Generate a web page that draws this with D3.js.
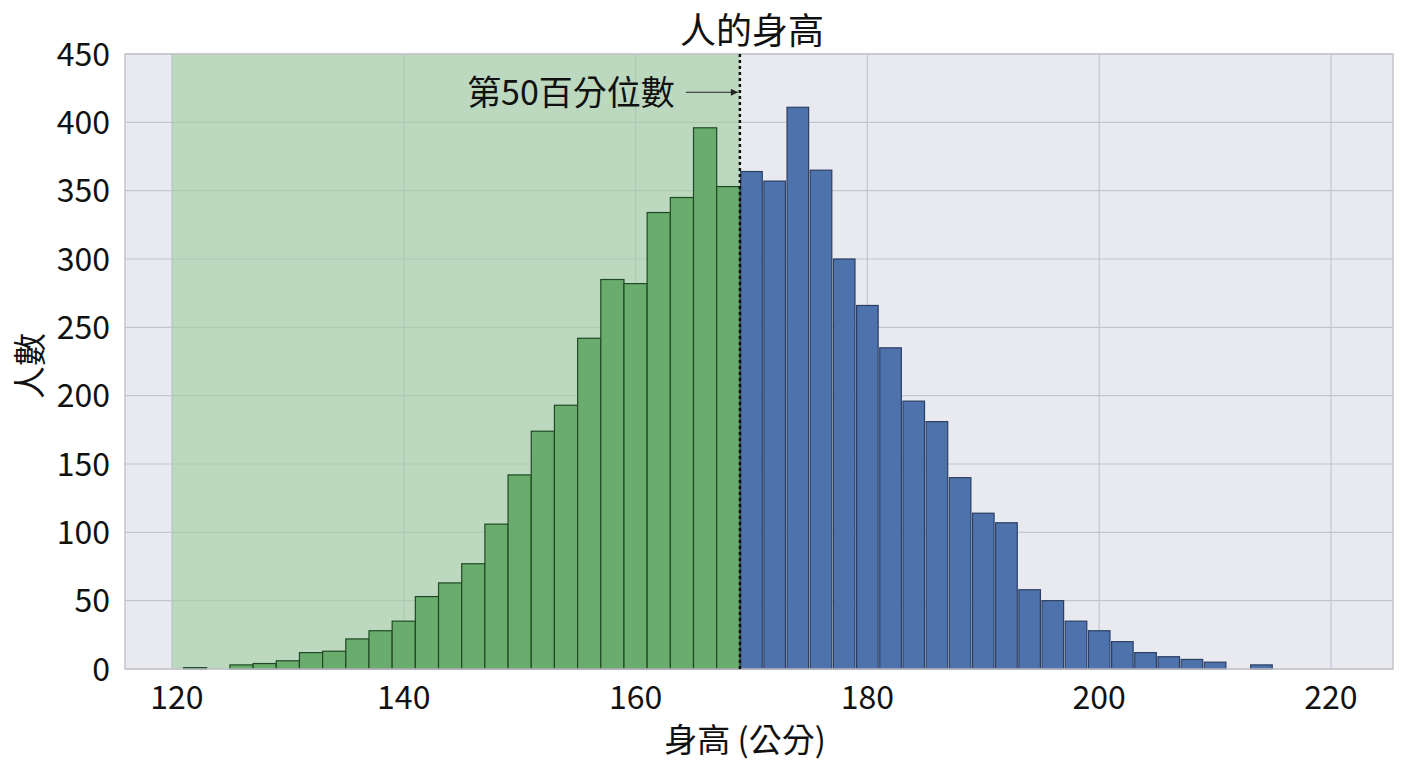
<!DOCTYPE html>
<html>
<head>
<meta charset="utf-8">
<script src="https://cdn.jsdelivr.net/npm/d3@7"></script>
<style>
  body { margin: 0; background: #ffffff; }
  svg { display: block; }
  text { font-family: "Noto Sans CJK TC", "Noto Sans", sans-serif; fill: #111; }
</style>
</head>
<body>
<svg id="svg_canvas" width="1408" height="768"></svg>
<script>
// bin left edges (2 cm wide bins)
var binStarts = [121, 123, 125, 127, 129, 131, 133, 135, 137, 139,
                 141, 143, 145, 147, 149, 151, 153, 155, 157, 159,
                 161, 163, 165, 167, 169, 171, 173, 175, 177, 179,
                 181, 183, 185, 187, 189, 191, 193, 195, 197, 199,
                 201, 203, 205, 207, 209, 211, 213];
var counts = [1, 0, 3, 4, 6, 12, 13, 22, 28, 35,
              53, 63, 77, 106, 142, 174, 193, 242, 285, 282,
              334, 345, 396, 353, 364, 357, 411, 365, 300, 266,
              235, 196, 181, 140, 114, 107, 58, 50, 35, 28,
              20, 12, 9, 7, 5, 0, 3];
var binWidth = 2;
var median = 169;
var spanStart = 120;
var xTicks = [120, 140, 160, 180, 200, 220];
var yTicks = [0, 50, 100, 150, 200, 250, 300, 350, 400, 450];
var titleText = "人的身高";
var xLabel = "身高 (公分)";
var yLabel = "人數";
var annotText = "第50百分位數";

var margin = {top: 54, right: 15, bottom: 99, left: 125};
var width = 1408 - margin.left - margin.right;
var height = 768 - margin.top - margin.bottom;

var svg = d3.select("#svg_canvas");
var g = svg.append("g").attr("transform", "translate(" + margin.left + "," + margin.top + ")");

var x = d3.scaleLinear().domain([115.95, 225.35]).range([0, width]);
var y = d3.scaleLinear().domain([0, 450]).range([height, 0]);

// background
g.append("rect")
	.attr("width", width)
	.attr("height", height)
	.attr("fill", "#e9e9f0");

// grid
g.selectAll(".vgrid").data(xTicks).enter().append("line")
	.attr("x1", function(d){ return x(d); })
	.attr("x2", function(d){ return x(d); })
	.attr("y1", 0).attr("y2", height)
	.attr("stroke", "#c4c6cf").attr("stroke-width", 1.2);
g.selectAll(".hgrid").data(yTicks).enter().append("line")
	.attr("x1", 0).attr("x2", width)
	.attr("y1", function(d){ return y(d); })
	.attr("y2", function(d){ return y(d); })
	.attr("stroke", "#c4c6cf").attr("stroke-width", 1.2);

// shaded span below the median
g.append("rect")
	.attr("x", x(spanStart))
	.attr("y", 0)
	.attr("width", x(median) - x(spanStart))
	.attr("height", height)
	.attr("fill", "#9fcd9f")
	.attr("opacity", 0.6);

var bins = binStarts.map(function(b, i){ return {x0: b, x1: b + binWidth, n: counts[i]}; });

// bars
g.selectAll(".bar").data(bins.filter(function(d){ return d.n > 0; })).enter().append("rect")
	.attr("x", function(d){ return d.x0 < median ? x(d.x0) : x(d.x0) + 0.8; })
	.attr("y", function(d){ return y(d.n); })
	.attr("width", function(d){ return d.x0 < median ? x(d.x1) - x(d.x0) : x(d.x1) - x(d.x0) - 1.6; })
	.attr("height", function(d){ return y(0) - y(d.n); })
	.attr("fill", function(d){ return d.x0 < median ? "#6aab6e" : "#4e72ab"; })
	.attr("stroke", function(d){ return d.x0 < median ? "#1f4a23" : "#2b3f63"; })
	.attr("stroke-width", 1.2);

// frame
g.append("rect")
	.attr("width", width)
	.attr("height", height)
	.attr("fill", "none")
	.attr("stroke", "#c3c3cb")
	.attr("stroke-width", 1.5);

// median line
g.append("line")
	.attr("x1", x(median)).attr("x2", x(median))
	.attr("y1", 0).attr("y2", height)
	.attr("stroke", "#111")
	.attr("stroke-width", 2.5)
	.attr("stroke-dasharray", "3,3");

// annotation arrow
svg.append("defs").append("marker")
	.attr("id", "arrow")
	.attr("viewBox", "0 0 10 10")
	.attr("refX", 10).attr("refY", 5)
	.attr("markerWidth", 10).attr("markerHeight", 7)
	.attr("markerUnits", "userSpaceOnUse")
	.attr("orient", "auto")
	.append("path").attr("d", "M0,0L10,5L0,10z").attr("fill", "#222");

g.append("line")
	.attr("x1", x(median) - 54).attr("x2", x(median) - 2)
	.attr("y1", y(422)).attr("y2", y(422))
	.attr("stroke", "#222").attr("stroke-width", 1.2)
	.attr("marker-end", "url(#arrow)");

g.append("text")
	.attr("x", x(median) - 65)
	.attr("y", y(422))
	.attr("dy", "0.36em")
	.attr("text-anchor", "end")
	.style("font-size", "34px")
	.text(annotText);

// axes tick labels
g.selectAll(".xtick").data(xTicks).enter().append("text")
	.attr("x", function(d){ return x(d) + (d === 120 ? 5 : 0); })
	.attr("y", height + 40)
	.attr("text-anchor", "middle")
	.style("font-size", "32px")
	.text(function(d){ return d; });

g.selectAll(".ytick").data(yTicks).enter().append("text")
	.attr("x", -15)
	.attr("y", function(d){ return y(d); })
	.attr("dy", "0.36em")
	.attr("text-anchor", "end")
	.style("font-size", "32px")
	.text(function(d){ return d; });

// title and labels
svg.append("text")
	.attr("x", 752).attr("y", 44)
	.attr("text-anchor", "middle")
	.style("font-size", "36px")
	.text(titleText);

svg.append("text")
	.attr("x", 745).attr("y", 752)
	.attr("text-anchor", "middle")
	.style("font-size", "33px")
	.text(xLabel);

svg.append("text")
	.attr("transform", "translate(42,366) rotate(-90)")
	.attr("text-anchor", "middle")
	.style("font-size", "33px")
	.text(yLabel);
</script>
</body>
</html>
